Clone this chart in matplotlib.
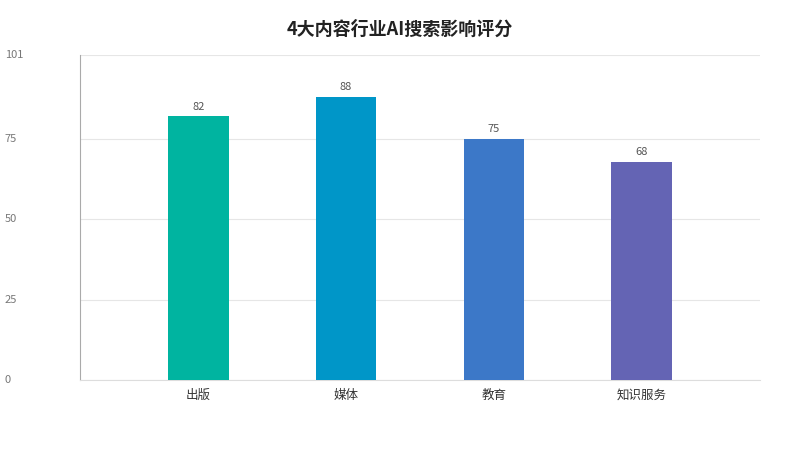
import matplotlib.pyplot as plt
import matplotlib.transforms as mtransforms

plt.rcParams['font.family'] = ['Noto Sans CJK SC', 'DejaVu Sans']

categories = ["出版", "媒体", "教育", "知识服务"]
scores = [82, 88, 75, 68]
colors = ["#00B4A0", "#0096C8", "#3C78C8", "#6464B4"]
yticks = [0, 25, 50, 75, 101]

fig = plt.figure(figsize=(8, 4.5), dpi=100)
ax = fig.add_axes([0.1, 0.155, 0.85, 0.722])

x = range(len(categories))
bars = ax.bar(x, scores, width=0.41, color=colors, zorder=3)
for b, v in zip(bars, scores):
    ax.text(b.get_x() + b.get_width() / 2, v + 1.5, str(v), ha="center", va="bottom",
            fontsize=8, color="#555555")

ax.set_xlim(-0.8, 3.8)
ax.set_ylim(0, 101)
ax.set_xticks(list(x))
ax.set_xticklabels(categories, fontsize=9, color="#333333")
ax.set_yticks(yticks)
ax.set_yticklabels([])
ax.tick_params(axis="y", length=0)
ax.tick_params(axis="x", length=0, pad=6)

# y labels sit at the far left of the figure, left aligned
trans = mtransforms.blended_transform_factory(fig.transFigure, ax.transData)
for t in yticks:
    ax.text(0.006, t, str(t), transform=trans, ha="left", va="center",
            fontsize=8, color="#777777", clip_on=False)

ax.grid(axis="y", color="#E6E6E6", linewidth=0.8, zorder=0)
for s in ["top", "right"]:
    ax.spines[s].set_visible(False)
ax.spines["left"].set_color("#AAAAAA")
ax.spines["bottom"].set_color("#DDDDDD")

fig.suptitle("4大内容行业AI搜索影响评分", y=0.955, fontsize=13, fontweight="bold", color="#222222")
fig.savefig("out.png")
